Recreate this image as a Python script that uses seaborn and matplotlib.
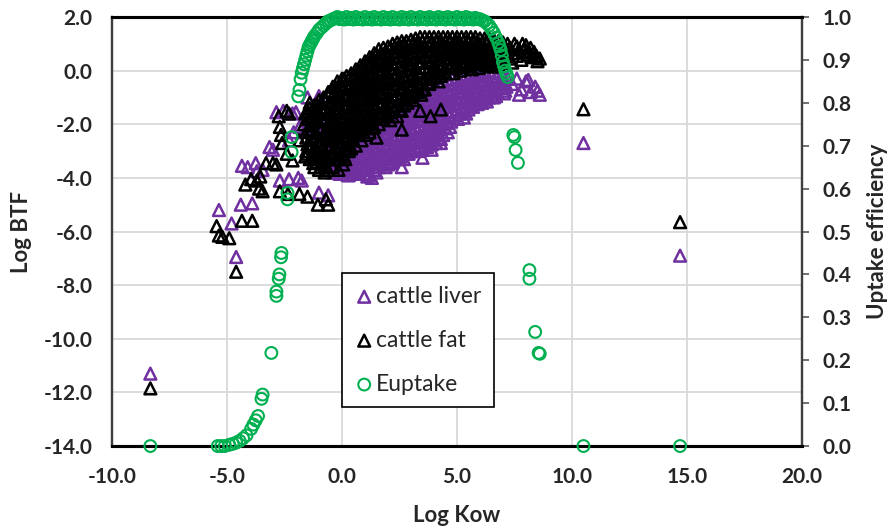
import matplotlib.pyplot as plt
import seaborn as sns
import pandas as pd

# (Log Kow, Log BTF)
liver_pts = [
    (-8.33, -11.3),
    (-5.35, -5.2), (-4.8, -5.7), (-4.4, -5.0), (-3.9, -4.95), (-4.6, -6.95),
    (-4.35, -3.55), (-4.1, -3.6), (-3.75, -3.45), (-3.45, -3.7), (-3.7, -3.75),
    (-3.15, -2.85), (-3.0, -2.95),
    (-2.85, -1.55), (-2.55, -1.5), (-2.15, -1.6), (-2.0, -1.55),
    (-1.5, -1.0), (-1.0, -0.95),
    (-2.7, -4.1), (-2.3, -4.05), (-1.9, -4.0), (-1.75, -4.1),
    (-1.0, -4.55), (-0.6, -4.65),
    (-2.1, -2.3), (-1.85, -2.1), (-2.3, -2.6), (-1.6, -2.2),
    (-1.2, -2.3), (-1.15, -2.8), (-1.25, -3.3),
    (-1.0, -2.2), (-0.95, -2.7), (-1.05, -3.2),
    (-0.8, -2.0), (-0.75, -2.6), (-0.8, -3.2),
    (-0.6, -2.2), (-0.55, -2.7), (-0.65, -3.1), (-0.6, -3.5),
    (-0.4, -2.4), (-0.35, -2.9), (-0.45, -3.3), (-0.4, -3.8),
    (-0.2, -2.6), (-0.15, -3.0), (-0.25, -3.4), (-0.2, -3.8),
    (0.0, -2.5), (0.05, -2.9), (-0.05, -3.3), (0.0, -3.7),
    (0.2, -2.3), (0.25, -2.7), (0.15, -3.1), (0.2, -3.5), (0.25, -3.9),
    (0.4, -2.2), (0.45, -2.6), (0.35, -3.0), (0.4, -3.4), (0.45, -3.8),
    (0.6, -2.1), (0.55, -2.5), (0.65, -2.9), (0.6, -3.3), (0.55, -3.7),
    (0.8, -2.0), (0.75, -2.4), (0.85, -2.8), (0.8, -3.2), (0.75, -3.6),
    (1.0, -1.9), (1.05, -2.3), (0.95, -2.7), (1.0, -3.1), (1.05, -3.5), (1.0, -3.85),
    (1.2, -1.8), (1.25, -2.2), (1.15, -2.6), (1.2, -3.0), (1.25, -3.4), (1.2, -3.9),
    (1.4, -1.7), (1.35, -2.1), (1.45, -2.5), (1.4, -2.9), (1.35, -3.3), (1.4, -3.7),
    (1.6, -1.6), (1.55, -2.0), (1.65, -2.4), (1.6, -2.8), (1.55, -3.2), (1.6, -3.6),
    (1.8, -1.5), (1.85, -1.9), (1.75, -2.3), (1.8, -2.7), (1.85, -3.1), (1.8, -3.5),
    (2.0, -1.5), (2.05, -1.9), (1.95, -2.3), (2.0, -2.7), (2.05, -3.1), (2.0, -3.5),
    (2.2, -1.3), (2.15, -1.7), (2.25, -2.1), (2.2, -2.5), (2.15, -2.9), (2.2, -3.4),
    (2.4, -1.2), (2.35, -1.6), (2.45, -2.0), (2.4, -2.4), (2.35, -2.8), (2.4, -3.3),
    (2.6, -1.2), (2.65, -1.6), (2.55, -2.0), (2.6, -2.4), (2.65, -2.8), (2.6, -3.2),
    (2.8, -1.1), (2.85, -1.5), (2.75, -1.9), (2.8, -2.3), (2.85, -2.7), (2.8, -3.1),
    (3.0, -1.0), (2.95, -1.4), (3.05, -1.8), (3.0, -2.2), (2.95, -2.6), (3.0, -3.0),
    (3.2, -0.9), (3.15, -1.3), (3.25, -1.7), (3.2, -2.1), (3.15, -2.5), (3.2, -2.9),
    (3.4, -0.85), (3.45, -1.25), (3.35, -1.65), (3.4, -2.05), (3.45, -2.45), (3.4, -2.85),
    (3.6, -0.8), (3.65, -1.2), (3.55, -1.6), (3.6, -2.0), (3.65, -2.4), (3.6, -2.8),
    (3.8, -0.7), (3.75, -1.1), (3.85, -1.5), (3.8, -1.9), (3.75, -2.3), (3.8, -2.7),
    (4.0, -0.6), (3.95, -1.0), (4.05, -1.4), (4.0, -1.8), (3.95, -2.2), (4.0, -2.6),
    (4.2, -0.5), (4.25, -0.9), (4.15, -1.3), (4.2, -1.7), (4.25, -2.1), (4.2, -2.5),
    (4.4, -0.4), (4.45, -0.8), (4.35, -1.2), (4.4, -1.6), (4.45, -2.0), (4.4, -2.4),
    (4.6, -0.35), (4.55, -0.75), (4.65, -1.15), (4.6, -1.55), (4.55, -1.95), (4.6, -2.3),
    (4.8, -0.3), (4.75, -0.7), (4.85, -1.1), (4.8, -1.5), (4.75, -1.9),
    (5.0, -0.25), (5.05, -0.65), (4.95, -1.05), (5.0, -1.45), (5.05, -1.8),
    (5.2, -0.2), (5.25, -0.6), (5.15, -1.0), (5.2, -1.4), (5.3, -1.75),
    (5.4, -0.15), (5.35, -0.55), (5.45, -0.95), (5.4, -1.35), (5.4, -1.6),
    (5.6, -0.1), (5.55, -0.5), (5.65, -0.9), (5.6, -1.3),
    (5.8, -0.05), (5.85, -0.45), (5.75, -0.85), (5.8, -1.2),
    (6.0, 0.0), (6.05, -0.4), (5.95, -0.8), (6.0, -1.1),
    (6.2, 0.0), (6.15, -0.4), (6.25, -0.75), (6.2, -1.05),
    (6.4, 0.0), (6.35, -0.35), (6.45, -0.7), (6.4, -1.0),
    (6.6, -0.05), (6.65, -0.4), (6.55, -0.75), (6.6, -1.0),
    (6.8, -0.1), (6.85, -0.45), (6.75, -0.8),
    (7.0, -0.2), (6.95, -0.5), (7.05, -0.85),
    (7.2, -0.3), (7.15, -0.6),
    (-1.1, -2.5), (-1.1, -3.0), (-0.9, -2.3), (-0.9, -2.9),
    (-0.7, -2.4), (-0.7, -2.9), (-0.7, -3.4), (-0.5, -2.5), (-0.5, -3.0), (-0.5, -3.6),
    (-0.3, -2.7), (-0.3, -3.1), (-0.3, -3.6), (-0.1, -2.7), (-0.1, -3.1), (-0.1, -3.5), (-0.1, -3.85),
    (0.1, -2.5), (0.1, -2.9), (0.1, -3.3), (0.1, -3.7),
    (0.3, -2.4), (0.3, -2.8), (0.3, -3.2), (0.3, -3.6), (0.3, -3.9),
    (0.5, -2.3), (0.5, -2.7), (0.5, -3.1), (0.5, -3.5),
    (0.7, -2.2), (0.7, -2.6), (0.7, -3.0), (0.7, -3.4), (0.7, -3.8),
    (0.9, -2.1), (0.9, -2.5), (0.9, -2.9), (0.9, -3.3), (0.9, -3.7),
    (1.1, -2.0), (1.1, -2.4), (1.1, -2.8), (1.1, -3.2), (1.1, -3.6), (1.1, -3.95),
    (1.3, -1.9), (1.3, -2.3), (1.3, -2.7), (1.3, -3.1), (1.3, -3.5),
    (1.5, -1.8), (1.5, -2.2), (1.5, -2.6), (1.5, -3.0), (1.5, -3.4), (1.5, -3.8),
    (1.7, -1.7), (1.7, -2.1), (1.7, -2.5), (1.7, -2.9), (1.7, -3.3),
    (1.9, -1.6), (1.9, -2.0), (1.9, -2.4), (1.9, -2.8), (1.9, -3.2), (1.9, -3.6),
    (2.1, -1.4), (2.1, -1.8), (2.1, -2.2), (2.1, -2.6), (2.1, -3.0), (2.1, -3.45),
    (2.3, -1.35), (2.3, -1.75), (2.3, -2.15), (2.3, -2.55), (2.3, -2.95), (2.3, -3.3),
    (2.5, -1.3), (2.5, -1.7), (2.5, -2.1), (2.5, -2.5), (2.5, -2.9), (2.5, -3.25),
    (2.7, -1.3), (2.7, -1.7), (2.7, -2.1), (2.7, -2.5), (2.7, -2.9), (2.7, -3.3),
    (2.9, -1.2), (2.9, -1.6), (2.9, -2.0), (2.9, -2.4), (2.9, -2.8), (2.9, -3.1),
    (3.1, -1.1), (3.1, -1.5), (3.1, -1.9), (3.1, -2.3), (3.1, -2.7), (3.1, -3.0),
    (3.3, -1.05), (3.3, -1.45), (3.3, -1.85), (3.3, -2.25), (3.3, -2.65), (3.3, -3.0),
    (3.5, -1.0), (3.5, -1.4), (3.5, -1.8), (3.5, -2.2), (3.5, -2.6), (3.5, -2.95),
    (3.7, -0.9), (3.7, -1.3), (3.7, -1.7), (3.7, -2.1), (3.7, -2.5), (3.7, -2.85),
    (3.9, -0.8), (3.9, -1.2), (3.9, -1.6), (3.9, -2.0), (3.9, -2.4), (3.9, -2.75),
    (4.1, -0.7), (4.1, -1.1), (4.1, -1.5), (4.1, -1.9), (4.1, -2.3), (4.1, -2.7),
    (4.3, -0.6), (4.3, -1.0), (4.3, -1.4), (4.3, -1.8), (4.3, -2.2), (4.3, -2.55),
    (4.5, -0.55), (4.5, -0.95), (4.5, -1.35), (4.5, -1.75), (4.5, -2.15),
    (4.7, -0.5), (4.7, -0.9), (4.7, -1.3), (4.7, -1.7), (4.7, -2.1),
    (4.9, -0.45), (4.9, -0.85), (4.9, -1.25), (4.9, -1.65),
    (5.1, -0.4), (5.1, -0.8), (5.1, -1.2), (5.1, -1.6),
    (5.3, -0.35), (5.3, -0.75), (5.3, -1.15), (5.3, -1.5),
    (5.5, -0.3), (5.5, -0.7), (5.5, -1.1), (5.5, -1.45),
    (5.7, -0.25), (5.7, -0.65), (5.7, -1.05), (5.7, -1.35),
    (5.9, -0.2), (5.9, -0.6), (5.9, -0.95), (5.9, -1.25),
    (6.1, -0.2), (6.1, -0.55), (6.1, -0.9), (6.1, -1.2),
    (6.3, -0.15), (6.3, -0.5), (6.3, -0.85), (6.3, -1.15),
    (6.5, -0.2), (6.5, -0.55), (6.5, -0.9), (6.7, -0.25), (6.7, -0.6), (6.7, -0.95),
    (6.9, -0.3), (6.9, -0.65), (7.1, -0.45), (7.1, -0.75),
    (3.9, -2.95), (4.3, -2.7), (3.5, -3.25), (2.6, -3.6), (1.3, -4.0), (0.5, -3.85),
    (7.4, -0.5), (7.6, -0.3), (7.8, -0.7), (8.0, -0.4), (8.2, -0.8),
    (8.4, -0.6), (8.6, -0.9), (7.7, -0.9), (8.1, -0.35), (8.5, -0.75),
    (10.5, -2.7), (14.7, -6.9),
]

fat_pts = [
    (-8.33, -11.85),
    (-5.45, -5.8), (-5.35, -6.15), (-5.2, -6.2), (-4.9, -6.25), (-4.6, -7.5),
    (-4.35, -5.6), (-3.9, -5.6),
    (-4.2, -4.25), (-3.95, -4.05), (-3.7, -4.1), (-3.6, -4.4), (-3.45, -4.5), (-3.55, -3.95),
    (-3.3, -3.45), (-3.0, -3.45), (-2.85, -3.5),
    (-2.7, -2.1), (-2.65, -2.4), (-2.6, -2.7), (-2.75, -1.7),
    (-2.4, -1.5), (-2.3, -1.6), (-2.4, -3.1), (-2.15, -3.35),
    (-2.7, -4.5), (-2.35, -4.6), (-1.85, -4.6), (-1.5, -4.7),
    (-1.05, -5.0), (-0.7, -4.8), (-0.6, -5.0),
    (-1.85, -2.6), (-1.55, -3.0), (-1.25, -3.45),
    (-1.5, -1.5), (-1.4, -1.2), (-1.1, -1.25), (-0.9, -1.4), (-1.3, -1.7),
    (-1.6, -1.6), (-1.65, -2.0), (-1.55, -2.5), (-1.6, -3.2),
    (-1.4, -1.4), (-1.45, -1.8), (-1.35, -2.3), (-1.4, -2.8), (-1.4, -3.3),
    (-1.2, -1.3), (-1.25, -1.9), (-1.15, -2.3), (-1.2, -2.9), (-1.2, -3.6),
    (-1.0, -1.1), (-1.05, -1.6), (-0.95, -2.1), (-1.0, -2.6), (-1.05, -3.1), (-1.0, -3.7),
    (-0.8, -1.0), (-0.85, -1.5), (-0.75, -1.9), (-0.8, -2.4), (-0.85, -2.9), (-0.8, -3.4), (-0.75, -3.8),
    (-0.6, -0.8), (-0.55, -1.2), (-0.65, -1.6), (-0.6, -2.0), (-0.55, -2.4), (-0.6, -2.8), (-0.65, -3.3), (-0.6, -3.7),
    (-0.4, -0.6), (-0.45, -1.0), (-0.35, -1.4), (-0.4, -1.8), (-0.4, -2.2), (-0.45, -2.6), (-0.35, -3.1), (-0.4, -3.6),
    (-0.2, -0.4), (-0.15, -0.8), (-0.25, -1.2), (-0.2, -1.6), (-0.15, -2.0), (-0.2, -2.4), (-0.25, -2.9), (-0.2, -3.3), (-0.15, -3.7),
    (0.0, -0.3), (0.05, -0.7), (-0.05, -1.1), (0.0, -1.5), (0.05, -1.9), (0.0, -2.3), (-0.05, -2.7), (0.0, -3.1), (0.05, -3.5),
    (0.2, -0.2), (0.15, -0.5), (0.25, -0.9), (0.2, -1.3), (0.15, -1.7), (0.2, -2.1), (0.25, -2.5), (0.2, -2.9), (0.15, -3.3),
    (0.4, -0.1), (0.35, -0.5), (0.45, -0.9), (0.4, -1.3), (0.35, -1.7), (0.4, -2.1), (0.45, -2.5), (0.4, -2.9),
    (0.6, 0.05), (0.65, -0.3), (0.55, -0.7), (0.6, -1.1), (0.65, -1.5), (0.6, -1.9), (0.55, -2.3), (0.6, -2.8),
    (0.8, 0.2), (0.85, -0.2), (0.75, -0.6), (0.8, -1.0), (0.85, -1.4), (0.8, -1.8), (0.75, -2.2), (0.85, -2.6),
    (1.0, 0.35), (0.95, 0.0), (1.05, -0.4), (1.0, -0.8), (0.95, -1.2), (1.0, -1.6), (1.05, -2.0), (1.0, -2.4),
    (1.2, 0.5), (1.15, 0.1), (1.25, -0.3), (1.2, -0.7), (1.15, -1.1), (1.2, -1.5), (1.25, -1.9), (1.2, -2.3),
    (1.4, 0.65), (1.45, 0.3), (1.35, -0.1), (1.4, -0.5), (1.45, -0.9), (1.4, -1.3), (1.35, -1.7), (1.4, -2.1), (1.5, -2.5),
    (1.6, 0.8), (1.65, 0.4), (1.55, 0.0), (1.6, -0.4), (1.65, -0.8), (1.6, -1.2), (1.55, -1.6), (1.6, -2.0),
    (1.8, 0.85), (1.75, 0.6), (1.85, 0.2), (1.8, -0.2), (1.75, -0.6), (1.8, -1.0), (1.85, -1.4), (1.8, -1.8),
    (2.0, 0.9), (1.95, 0.5), (2.05, 0.1), (2.0, -0.3), (1.95, -0.7), (2.0, -1.1), (2.05, -1.5), (2.1, -1.85),
    (2.2, 1.0), (2.25, 0.7), (2.15, 0.3), (2.2, -0.1), (2.25, -0.5), (2.2, -0.9), (2.15, -1.3), (2.2, -1.7),
    (2.4, 1.05), (2.45, 0.7), (2.35, 0.3), (2.4, -0.1), (2.45, -0.5), (2.4, -0.9), (2.35, -1.3), (2.4, -1.7),
    (2.6, 1.1), (2.55, 0.9), (2.65, 0.5), (2.6, 0.1), (2.55, -0.3), (2.6, -0.7), (2.65, -1.1), (2.6, -1.5),
    (2.8, 1.1), (2.75, 0.8), (2.85, 0.4), (2.8, 0.0), (2.75, -0.4), (2.8, -0.8), (2.85, -1.2),
    (3.0, 1.15), (3.05, 0.95), (2.95, 0.6), (3.0, 0.2), (3.05, -0.2), (3.0, -0.6), (2.95, -1.0),
    (3.2, 1.2), (3.25, 0.85), (3.15, 0.5), (3.2, 0.1), (3.25, -0.3), (3.2, -0.7), (3.1, -1.1),
    (3.4, 1.25), (3.35, 1.0), (3.45, 0.7), (3.4, 0.3), (3.35, -0.1), (3.4, -0.5), (3.45, -0.9),
    (3.6, 1.25), (3.55, 0.9), (3.65, 0.5), (3.6, 0.1), (3.55, -0.3), (3.6, -0.7),
    (3.8, 1.25), (3.85, 1.05), (3.75, 0.7), (3.8, 0.3), (3.85, -0.1), (3.8, -0.5),
    (4.0, 1.25), (4.05, 0.9), (3.95, 0.55), (4.0, 0.2), (4.05, -0.2),
    (4.2, 1.25), (4.15, 1.1), (4.25, 0.75), (4.2, 0.4), (4.15, 0.0), (4.2, -0.4),
    (4.4, 1.25), (4.35, 0.95), (4.45, 0.6), (4.4, 0.25), (4.35, -0.1),
    (4.6, 1.25), (4.65, 1.1), (4.55, 0.8), (4.6, 0.45), (4.65, 0.1),
    (4.8, 1.25), (4.85, 0.95), (4.75, 0.6), (4.8, 0.25), (4.85, -0.1),
    (5.0, 1.25), (4.95, 1.1), (5.05, 0.8), (5.0, 0.45), (4.95, 0.1),
    (5.2, 1.25), (5.15, 0.95), (5.25, 0.65), (5.2, 0.3), (5.15, 0.0),
    (5.4, 1.25), (5.45, 1.1), (5.35, 0.8), (5.4, 0.5), (5.45, 0.15),
    (5.6, 1.25), (5.65, 0.95), (5.55, 0.65), (5.6, 0.35), (5.65, 0.05),
    (5.8, 1.25), (5.75, 1.1), (5.85, 0.8), (5.8, 0.5), (5.75, 0.25),
    (6.0, 1.2), (5.95, 0.95), (6.05, 0.7), (6.0, 0.4), (5.95, 0.1),
    (6.2, 1.2), (6.25, 1.05), (6.15, 0.8), (6.2, 0.5), (6.25, 0.2),
    (6.4, 1.2), (6.45, 0.9), (6.35, 0.6), (6.4, 0.3),
    (6.6, 1.15), (6.55, 1.0), (6.65, 0.75), (6.6, 0.45), (6.55, 0.15),
    (6.8, 1.1), (6.75, 0.8), (6.85, 0.5), (6.8, 0.2),
    (7.0, 1.05), (7.05, 0.85), (6.95, 0.6), (7.0, 0.3),
    (7.2, 1.0), (7.15, 0.7), (7.25, 0.45),
    (-1.5, -1.6), (-1.5, -2.2), (-1.5, -2.75), (-1.5, -3.1),
    (-1.3, -1.5), (-1.3, -2.05), (-1.3, -2.6), (-1.3, -3.2),
    (-1.1, -1.4), (-1.1, -1.85), (-1.1, -2.45), (-1.1, -3.0), (-1.1, -3.4),
    (-0.9, -1.2), (-0.9, -1.75), (-0.9, -2.2), (-0.9, -2.7), (-0.9, -3.2), (-0.9, -3.6),
    (-0.7, -1.1), (-0.7, -1.4), (-0.7, -1.8), (-0.7, -2.2), (-0.7, -2.6), (-0.7, -3.1), (-0.7, -3.55),
    (-0.5, -0.8), (-0.5, -1.2), (-0.5, -1.6), (-0.5, -2.0), (-0.5, -2.4), (-0.5, -2.8), (-0.5, -3.2),
    (-0.3, -0.6), (-0.3, -1.0), (-0.3, -1.5), (-0.3, -1.9), (-0.3, -2.4), (-0.3, -2.8), (-0.3, -3.3),
    (-0.1, -0.5), (-0.1, -0.9), (-0.1, -1.3), (-0.1, -1.7), (-0.1, -2.1), (-0.1, -2.5), (-0.1, -2.9), (-0.1, -3.3),
    (0.1, -0.3), (0.1, -0.9), (0.1, -1.3), (0.1, -1.7), (0.1, -2.1), (0.1, -2.5), (0.1, -2.9), (0.1, -3.2),
    (0.3, -0.3), (0.3, -0.7), (0.3, -1.1), (0.3, -1.5), (0.3, -1.9), (0.3, -2.3), (0.3, -2.7), (0.3, -3.0),
    (0.5, -0.2), (0.5, -0.6), (0.5, -1.0), (0.5, -1.4), (0.5, -1.8), (0.5, -2.2), (0.5, -2.6),
    (0.7, 0.0), (0.7, -0.4), (0.7, -0.8), (0.7, -1.2), (0.7, -1.6), (0.7, -2.0), (0.7, -2.4),
    (0.9, 0.15), (0.9, -0.2), (0.9, -0.6), (0.9, -1.0), (0.9, -1.4), (0.9, -1.8), (0.9, -2.2),
    (1.1, 0.3), (1.1, -0.1), (1.1, -0.5), (1.1, -0.9), (1.1, -1.3), (1.1, -1.7), (1.1, -2.15),
    (1.3, 0.45), (1.3, 0.1), (1.3, -0.3), (1.3, -0.7), (1.3, -1.1), (1.3, -1.5), (1.3, -1.9),
    (1.5, 0.6), (1.5, 0.2), (1.5, -0.2), (1.5, -0.6), (1.5, -1.0), (1.5, -1.4), (1.5, -1.8),
    (1.7, 0.65), (1.7, 0.3), (1.7, -0.1), (1.7, -0.5), (1.7, -0.9), (1.7, -1.3), (1.7, -1.7),
    (1.9, 0.7), (1.9, 0.35), (1.9, -0.05), (1.9, -0.45), (1.9, -0.85), (1.9, -1.25), (1.9, -1.65),
    (2.1, 0.85), (2.1, 0.45), (2.1, 0.05), (2.1, -0.35), (2.1, -0.75), (2.1, -1.15), (2.1, -1.55),
    (2.3, 0.9), (2.3, 0.5), (2.3, 0.1), (2.3, -0.3), (2.3, -0.7), (2.3, -1.1), (2.3, -1.5),
    (2.5, 0.95), (2.5, 0.55), (2.5, 0.15), (2.5, -0.25), (2.5, -0.65), (2.5, -1.05), (2.5, -1.45),
    (2.7, 1.0), (2.7, 0.6), (2.7, 0.2), (2.7, -0.2), (2.7, -0.6), (2.7, -1.0), (2.7, -1.3),
    (2.9, 1.0), (2.9, 0.65), (2.9, 0.25), (2.9, -0.15), (2.9, -0.55), (2.9, -0.9),
    (3.1, 1.05), (3.1, 0.7), (3.1, 0.3), (3.1, -0.1), (3.1, -0.5), (3.1, -0.85),
    (3.3, 1.1), (3.3, 0.7), (3.3, 0.3), (3.3, -0.1), (3.3, -0.5), (3.3, -0.8),
    (3.5, 1.1), (3.5, 0.75), (3.5, 0.35), (3.5, -0.05), (3.5, -0.45), (3.5, -0.7),
    (3.7, 1.1), (3.7, 0.75), (3.7, 0.35), (3.7, -0.05), (3.7, -0.45),
    (3.9, 1.1), (3.9, 0.75), (3.9, 0.4), (3.9, 0.0), (3.9, -0.3),
    (4.1, 1.1), (4.1, 0.75), (4.1, 0.4), (4.1, 0.0), (4.1, -0.25),
    (4.3, 1.1), (4.3, 0.8), (4.3, 0.45), (4.3, 0.1), (4.3, -0.2),
    (4.5, 1.1), (4.5, 0.8), (4.5, 0.45), (4.5, 0.1), (4.5, -0.1),
    (4.7, 1.1), (4.7, 0.8), (4.7, 0.45), (4.7, 0.1),
    (4.9, 1.1), (4.9, 0.8), (4.9, 0.45), (4.9, 0.15),
    (5.1, 1.1), (5.1, 0.8), (5.1, 0.5), (5.1, 0.15),
    (5.3, 1.1), (5.3, 0.8), (5.3, 0.5), (5.3, 0.2),
    (5.5, 1.1), (5.5, 0.8), (5.5, 0.5), (5.5, 0.2),
    (5.7, 1.1), (5.7, 0.8), (5.7, 0.5), (5.7, 0.25),
    (5.9, 1.05), (5.9, 0.8), (5.9, 0.55), (5.9, 0.25),
    (6.1, 1.05), (6.1, 0.8), (6.1, 0.55), (6.1, 0.3),
    (6.3, 1.0), (6.3, 0.75), (6.3, 0.45), (6.5, 1.0), (6.5, 0.75), (6.5, 0.45),
    (6.7, 0.95), (6.7, 0.65), (6.7, 0.35), (6.9, 0.9), (6.9, 0.65), (6.9, 0.4),
    (7.1, 0.85), (7.1, 0.6),
    (3.85, -1.7), (4.3, -1.45), (2.6, -2.2), (3.4, -1.5),
    (7.4, 0.3), (7.5, 1.0), (7.6, 0.55), (7.7, 0.8), (7.9, 0.75), (8.0, 0.95),
    (8.1, 0.6), (8.3, 0.5), (8.5, 0.35), (8.6, 0.45), (7.3, 0.85), (7.8, 0.4), (8.2, 0.85),
    (7.4, 0.65), (7.6, 0.9), (7.85, 1.0), (8.05, 0.7), (8.35, 0.7), (8.45, 0.55),
    (10.5, -1.44), (14.7, -5.65),
]

# (Log Kow, uptake efficiency) on the right axis
uptake_pts = [
    (-8.33, 0.0),
    (-5.4, 0.0), (-5.25, 0.0), (-5.1, 0.0), (-4.9, 0.003), (-4.75, 0.005), (-4.6, 0.008),
    (-4.45, 0.012), (-4.3, 0.018), (-4.15, 0.025), (-3.95, 0.04), (-3.85, 0.05),
    (-3.75, 0.06), (-3.65, 0.07), (-3.5, 0.11), (-3.45, 0.12), (-3.07, 0.217),
    (-2.85, 0.35), (-2.85, 0.36), (-2.75, 0.39), (-2.72, 0.40), (-2.65, 0.44), (-2.63, 0.45),
    (-2.37, 0.575), (-2.37, 0.59), (-2.19, 0.685), (-2.19, 0.72),
    (-1.9, 0.815), (-1.85, 0.83), (-1.8, 0.855), (-1.75, 0.87), (-1.7, 0.88), (-1.65, 0.89),
    (-1.6, 0.9), (-1.55, 0.91), (-1.5, 0.92), (-1.45, 0.93), (-1.4, 0.935), (-1.35, 0.94),
    (-1.3, 0.945), (-1.25, 0.95), (-1.2, 0.955), (-1.1, 0.962), (-1.0, 0.97), (-0.9, 0.975),
    (-0.8, 0.98), (-0.7, 0.985), (-0.6, 0.99), (-0.5, 0.992), (-0.4, 0.995), (-0.3, 0.997),
    (-0.2, 1.0), (-0.1, 0.995), (0.0, 0.997), (0.1, 0.994), (0.2, 1.0), (0.3, 0.995),
    (0.4, 0.998), (0.5, 0.994), (0.6, 1.0), (0.7, 0.995), (0.8, 0.997), (0.9, 0.994),
    (1.0, 1.0), (1.1, 0.995), (1.2, 0.998), (1.3, 0.994), (1.4, 1.0), (1.5, 0.995),
    (1.6, 0.997), (1.7, 0.994), (1.8, 1.0), (1.9, 0.995), (2.0, 0.998), (2.1, 0.994),
    (2.2, 1.0), (2.3, 0.995), (2.4, 0.997), (2.5, 0.994), (2.6, 1.0), (2.7, 0.995),
    (2.8, 0.998), (2.9, 0.994), (3.0, 1.0), (3.1, 0.995), (3.2, 0.997), (3.3, 0.994),
    (3.4, 1.0), (3.5, 0.995), (3.6, 0.998), (3.7, 0.994), (3.8, 1.0), (3.9, 0.995),
    (4.0, 0.997), (4.1, 0.994), (4.2, 1.0), (4.3, 0.995), (4.4, 0.998), (4.5, 0.994),
    (4.6, 1.0), (4.7, 0.995), (4.8, 0.997), (4.9, 0.994), (5.0, 1.0), (5.1, 0.995),
    (5.2, 0.998), (5.3, 0.994), (5.4, 1.0), (5.5, 0.995), (5.6, 0.997), (5.7, 0.994),
    (5.8, 0.998), (5.9, 0.995), (6.0, 0.995), (6.1, 0.992),
    (6.2, 0.99), (6.3, 0.985), (6.4, 0.98), (6.5, 0.972), (6.6, 0.963), (6.7, 0.952),
    (6.8, 0.94), (6.85, 0.932), (6.9, 0.923), (6.95, 0.91), (7.0, 0.895), (7.05, 0.885),
    (7.1, 0.875), (7.15, 0.868), (7.2, 0.86),
    (7.45, 0.725), (7.5, 0.72), (7.55, 0.69), (7.65, 0.66),
    (8.15, 0.41), (8.15, 0.39), (8.4, 0.266), (8.55, 0.217), (8.6, 0.215),
    (10.5, 0.0), (14.7, 0.0),
]

kow_ticks = [-10, -5, 0, 5, 10, 15, 20]
btf_ticks = [-14, -12, -10, -8, -6, -4, -2, 0, 2]
eff_ticks = [0.0, 0.1, 0.2, 0.3, 0.4, 0.5, 0.6, 0.7, 0.8, 0.9, 1.0]

liver = pd.DataFrame(liver_pts, columns=["Log Kow", "Log BTF"])
fat = pd.DataFrame(fat_pts, columns=["Log Kow", "Log BTF"])
uptake = pd.DataFrame(uptake_pts, columns=["Log Kow", "Euptake"])

sns.set_style("white")
plt.rcParams["font.family"] = ["Lato", "DejaVu Sans"]
plt.rcParams["axes.unicode_minus"] = False
txt = "#262626"

fig, ax = plt.subplots(figsize=(8.9, 5.31), dpi=100)
fig.subplots_adjust(left=0.1258, right=0.9011, top=0.968, bottom=0.16)
ax2 = ax.twinx()

tri = dict(marker="^", s=72, facecolor="none", linewidth=1.8, legend=False)
sns.scatterplot(data=liver, x="Log Kow", y="Log BTF", ax=ax, edgecolor="#7030a0",
                label="cattle liver", **tri)
sns.scatterplot(data=fat, x="Log Kow", y="Log BTF", ax=ax, edgecolor="black",
                label="cattle fat", **tri)
sns.scatterplot(data=uptake, x="Log Kow", y="Euptake", ax=ax2, marker="o", s=72,
                facecolor="none", edgecolor="#00b050", linewidth=1.5,
                label="Euptake", legend=False, clip_on=False, zorder=3)

ax.set_xlim(-10, 20)
ax.set_ylim(-14, 2)
ax2.set_ylim(0, 1)

ax.set_xticks(kow_ticks)
ax.set_xticklabels([f"{t:.1f}" for t in kow_ticks], fontsize=15, fontweight="bold", color=txt)
ax.set_yticks(btf_ticks)
ax.set_yticklabels([f"{t:.1f}" for t in btf_ticks], fontsize=15, fontweight="bold", color=txt)
ax2.set_yticks(eff_ticks)
ax2.set_yticklabels([f"{t:.1f}" for t in eff_ticks], fontsize=15, fontweight="bold", color=txt)

ax.tick_params(axis="x", length=0, pad=15)
ax.tick_params(axis="y", length=0, pad=14)
ax2.tick_params(axis="y", direction="out", length=5, width=1.2, color="#595959", pad=10)

ax.grid(True, color="#d9d9d9", linewidth=1.3)
ax2.grid(False)

for a in (ax, ax2):
    a.spines["top"].set_linewidth(2.2)
    a.spines["top"].set_color("black")
    a.spines["bottom"].set_linewidth(2.2)
    a.spines["bottom"].set_color("black")
    a.spines["left"].set_linewidth(1.6)
    a.spines["left"].set_color("#404040")
    a.spines["right"].set_linewidth(1.6)
    a.spines["right"].set_color("#404040")

ax.set_xlabel("Log Kow", fontsize=16, fontweight="bold", color=txt, va="center")
ax.xaxis.set_label_coords(0.5, -0.161)
ax.set_ylabel("Log BTF", fontsize=16, fontweight="bold", color=txt, va="center", ha="center")
ax.yaxis.set_label_coords(-0.1304, 0.5)
ax2.set_ylabel("Uptake efficiency", fontsize=16, fontweight="bold", color=txt, va="center", ha="center")
ax2.yaxis.set_label_coords(1.110, 0.5)

h1, l1 = ax.get_legend_handles_labels()
h2, l2 = ax2.get_legend_handles_labels()
leg = ax2.legend(h1 + h2, l1 + l2, loc="upper left", bbox_to_anchor=(0.333, 0.403),
                 frameon=True, fancybox=False, edgecolor="black", framealpha=1,
                 fontsize=16.5, labelspacing=1.0, handletextpad=0.1, handlelength=0.86,
                 borderpad=0.55, borderaxespad=0)
leg.get_frame().set_linewidth(1.2)
for t in leg.get_texts():
    t.set_color(txt)

plt.savefig("out.png", dpi=100)
